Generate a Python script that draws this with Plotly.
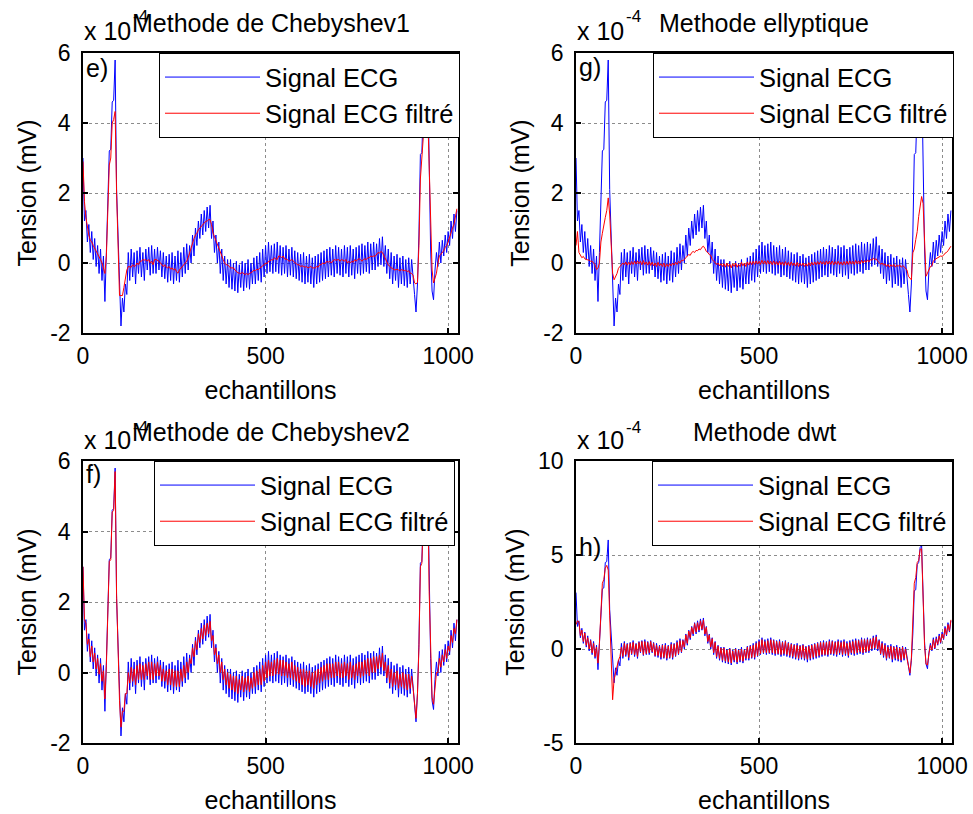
import plotly.graph_objects as go
from plotly.subplots import make_subplots

# ---------------- data (values in units of 1e-4 mV) ----------------
samples = list(range(0, 1025, 4))   # sample index (echantillons)
scale_exponent = -4

signal_ecg = [
    3.0, 1.2, 1.5, 0.6, 1.1, 0.3, 0.9, 0.1, 0.7, -0.1, 0.5, -0.3, 0.4, -0.5, 0.2, -1.1,
    0.3, 1.6, 3.2, 3.25, 4.6, 4.65, 5.8, 2.1, 0.6, -0.8, -1.8, -1.0, -1.4, -0.6, -0.9, 0.3,
    -0.5, 0.4, -0.4, 0.3, -0.6, 0.35, -0.3, 0.45, -0.4, 0.3, -0.5, 0.4, -0.2, 0.45, -0.35, 0.5,
    -0.3, 0.4, -0.3, 0.45, -0.2, 0.35, -0.4, 0.3, -0.45, 0.2, -0.55, 0.25, -0.5, 0.3, -0.6, 0.2,
    -0.5, 0.35, -0.55, 0.3, -0.4, 0.45, -0.3, 0.55, -0.2, 0.5, 0.0, 0.8, 0.2, 1.0, 0.5, 1.2,
    0.7, 1.4, 0.8, 1.5, 0.9, 1.6, 1.0, 1.65, 0.7, 1.2, 0.3, 0.8, 0.0, 0.6, -0.3, 0.4,
    -0.5, 0.2, -0.6, 0.1, -0.7, 0.1, -0.75, 0.0, -0.8, 0.05, -0.85, -0.05, -0.7, 0.05, -0.8, 0.0,
    -0.7, 0.1, -0.75, 0.0, -0.6, 0.15, -0.6, 0.2, -0.5, 0.3, -0.55, 0.4, -0.4, 0.5, -0.3, 0.6,
    -0.25, 0.5, -0.3, 0.55, -0.25, 0.6, -0.3, 0.5, -0.35, 0.45, -0.3, 0.5, -0.4, 0.4, -0.35, 0.45,
    -0.4, 0.35, -0.45, 0.3, -0.5, 0.25, -0.55, 0.3, -0.6, 0.2, -0.55, 0.25, -0.6, 0.15, -0.7, 0.2,
    -0.6, 0.25, -0.55, 0.3, -0.5, 0.35, -0.45, 0.4, -0.4, 0.45, -0.35, 0.4, -0.4, 0.5, -0.3, 0.45,
    -0.35, 0.4, -0.4, 0.5, -0.3, 0.45, -0.4, 0.5, -0.35, 0.4, -0.45, 0.45, -0.3, 0.5, -0.35, 0.55,
    -0.3, 0.5, -0.25, 0.6, -0.3, 0.55, -0.2, 0.6, -0.2, 0.55, -0.1, 0.7, -0.05, 0.75, -0.1, 0.5,
    -0.3, 0.4, -0.45, 0.3, -0.6, 0.2, -0.5, 0.25, -0.7, 0.15, -0.6, 0.2, -0.65, 0.1, -0.7, 0.15,
    -0.6, 0.1, -0.55, -0.9, -1.4, -0.6, 0.8, 3.1, 3.15, 4.5, 4.6, 5.4, 5.5, 2.2, 0.4, -0.8,
    -1.05, -0.2, 0.3, -0.1, 0.6, 0.0, 0.65, 0.2, 0.8, 0.3, 0.9, 0.5, 1.2, 0.7, 1.4, 0.9, 1.5,
]

filt_cheby1 = [
    2.9, 1.75, 1.3, 1.0, 0.8, 0.65, 0.6, 0.5, 0.42, 0.38, 0.3, 0.2, 0.1, 0.0, -0.14, -0.3,
    0.2, 1.6, 2.8, 3.0, 4.0, 4.1, 4.33, 2.0, 0.8, -0.93, -0.93, -0.93, -0.7, -0.4, -0.2, -0.1,
    -0.1, -0.12, -0.05, -0.1, -0.08, 0.0, -0.05, 0.05, 0.05, 0.1, 0.08, 0.1, 0.05, 0.1, 0.0, 0.05,
    -0.05, 0.1, 0.1, 0.08, 0.05, 0.0, -0.05, -0.1, -0.05, -0.12, -0.14, -0.1, -0.18, -0.14, -0.2, -0.16,
    -0.25, -0.29, -0.2, -0.15, -0.1, -0.05, 0.0, 0.05, 0.15, 0.3, 0.45, 0.57, 0.7, 0.8, 0.85, 0.95,
    1.0, 1.05, 1.1, 1.15, 1.19, 1.2, 1.24, 1.24, 1.1, 0.86, 0.75, 0.6, 0.5, 0.38, 0.29, 0.15,
    0.1, 0.0, -0.05, -0.05, -0.1, -0.14, -0.14, -0.14, -0.2, -0.25, -0.28, -0.29, -0.3, -0.27, -0.3, -0.33,
    -0.3, -0.33, -0.3, -0.28, -0.25, -0.2, -0.22, -0.18, -0.19, -0.15, -0.1, -0.08, -0.05, 0.0, -0.02, 0.05,
    0.05, 0.1, 0.08, 0.15, 0.12, 0.1, 0.2, 0.19, 0.15, 0.2, 0.12, 0.1, 0.1, 0.05, 0.08, 0.1,
    0.05, 0.0, -0.02, -0.05, -0.05, -0.1, -0.08, -0.1, -0.12, -0.1, -0.14, -0.12, -0.1, -0.14, -0.15, -0.14,
    -0.1, -0.12, -0.05, -0.05, 0.0, -0.02, 0.0, 0.05, 0.02, 0.05, 0.0, 0.05, 0.1, 0.08, 0.1, 0.1,
    0.05, 0.1, 0.08, 0.05, 0.1, 0.0, 0.05, 0.0, 0.05, 0.02, 0.1, 0.05, 0.1, 0.12, 0.1, 0.05,
    0.1, 0.12, 0.1, 0.15, 0.15, 0.2, 0.18, 0.2, 0.19, 0.25, 0.3, 0.28, 0.33, 0.3, 0.2, 0.1,
    0.0, -0.05, -0.1, -0.14, -0.15, -0.2, -0.19, -0.18, -0.2, -0.22, -0.19, -0.2, -0.22, -0.2, -0.25, -0.22,
    -0.29, -0.3, -0.35, -0.57, -0.6, -0.55, 0.5, 2.4, 3.1, 3.6, 4.0, 4.3, 4.3, 2.6, 1.0, -0.2,
    -0.57, -0.45, -0.29, 0.0, 0.2, 0.25, 0.29, 0.35, 0.45, 0.5, 0.6, 0.75, 0.86, 1.0, 1.1, 1.3, 1.55,
]

filt_ellip = [
    0.5, 0.9, 0.3, 0.2, 0.15, 0.19, 0.12, 0.1, 0.1, 0.08, 0.05, 0.05, 0.0, -0.05, -0.19, -0.15,
    0.0, 0.6, 0.85, 1.14, 1.3, 1.5, 1.86, 1.4, 0.4, -0.29, -0.48, -0.4, -0.3, -0.15, -0.1, -0.05,
    0.0, -0.05, 0.03, -0.06, 0.02, -0.05, 0.04, -0.04, 0.05, -0.03, 0.06, -0.02, 0.05, -0.05, 0.07, -0.04,
    0.03, -0.06, 0.04, -0.07, 0.02, -0.08, 0.0, -0.1, 0.02, -0.08, -0.02, -0.1, 0.0, -0.12, -0.03, -0.1,
    -0.02, -0.08, 0.0, -0.06, 0.02, -0.04, 0.05, 0.0, 0.08, 0.06, 0.12, 0.15, 0.2, 0.24, 0.22, 0.3,
    0.33, 0.3, 0.36, 0.35, 0.4, 0.38, 0.45, 0.48, 0.42, 0.33, 0.3, 0.24, 0.22, 0.1, 0.05, 0.02,
    -0.05, 0.0, -0.08, -0.02, -0.1, -0.02, -0.12, 0.0, -0.1, -0.03, -0.14, -0.02, -0.1, 0.0, -0.12, -0.04,
    -0.1, 0.02, -0.08, 0.0, -0.1, 0.03, -0.06, 0.04, -0.05, 0.05, -0.04, 0.06, -0.03, 0.05, -0.04, 0.08,
    -0.02, 0.06, -0.04, 0.07, -0.03, 0.05, -0.05, 0.06, -0.04, 0.04, -0.06, 0.05, -0.05, 0.03, -0.07, 0.04,
    -0.06, 0.02, -0.08, 0.03, -0.07, 0.0, -0.09, 0.02, -0.1, -0.01, -0.08, 0.0, -0.1, -0.02, -0.09, 0.01,
    -0.08, 0.02, -0.06, 0.03, -0.05, 0.04, -0.04, 0.05, -0.03, 0.04, -0.05, 0.06, -0.03, 0.05, -0.04, 0.06,
    -0.05, 0.04, -0.04, 0.05, -0.05, 0.03, -0.06, 0.04, -0.05, 0.05, -0.04, 0.06, -0.03, 0.05, -0.04, 0.07,
    -0.02, 0.06, -0.03, 0.08, 0.0, 0.07, 0.02, 0.09, 0.03, 0.1, 0.08, 0.14, 0.1, 0.12, 0.05, 0.02,
    -0.04, 0.0, -0.06, -0.02, -0.1, -0.04, -0.12, -0.05, -0.1, -0.04, -0.12, -0.06, -0.1, -0.05, -0.12, -0.08,
    -0.1, -0.15, -0.2, -0.38, -0.45, -0.48, 0.29, 0.4, 0.67, 0.9, 1.33, 1.6, 1.9, 1.7, 0.48, -0.38,
    -0.29, -0.2, -0.1, -0.08, 0.05, 0.1, 0.12, 0.15, 0.18, 0.2, 0.19, 0.22, 0.28, 0.3, 0.35, 0.42, 0.48,
]

filt_cheby2 = [
    3.0, 1.5, 1.4, 0.8, 0.95, 0.45, 0.75, 0.3, 0.55, 0.1, 0.4, -0.05, 0.25, -0.25, 0.05, -0.75,
    0.2, 1.6, 3.15, 3.2, 4.55, 4.6, 5.7, 2.2, 0.6, -0.8, -1.55, -1.1, -1.1, -0.6, -0.6, 0.0,
    -0.3, 0.15, -0.25, 0.1, -0.35, 0.2, -0.2, 0.25, -0.2, 0.2, -0.2, 0.25, -0.1, 0.3, -0.2, 0.3,
    -0.2, 0.25, -0.1, 0.3, -0.1, 0.2, -0.25, 0.1, -0.25, 0.05, -0.35, 0.1, -0.35, 0.1, -0.4, 0.05,
    -0.4, 0.05, -0.4, 0.1, -0.25, 0.2, -0.15, 0.3, 0.0, 0.4, 0.25, 0.7, 0.45, 0.9, 0.65, 1.1,
    0.85, 1.25, 0.95, 1.35, 1.05, 1.4, 1.1, 1.45, 0.9, 1.05, 0.5, 0.7, 0.25, 0.5, 0.0, 0.3,
    -0.2, 0.1, -0.35, 0.0, -0.45, -0.05, -0.5, -0.1, -0.55, -0.1, -0.6, -0.2, -0.5, -0.1, -0.55, -0.15,
    -0.5, -0.1, -0.55, -0.15, -0.45, 0.0, -0.4, 0.05, -0.35, 0.1, -0.35, 0.2, -0.25, 0.3, -0.15, 0.35,
    -0.1, 0.3, -0.1, 0.35, -0.05, 0.4, -0.05, 0.35, -0.1, 0.35, -0.1, 0.3, -0.15, 0.25, -0.15, 0.3,
    -0.2, 0.2, -0.25, 0.15, -0.3, 0.1, -0.35, 0.1, -0.4, 0.05, -0.35, 0.05, -0.4, 0.0, -0.45, 0.05,
    -0.35, 0.1, -0.3, 0.15, -0.25, 0.2, -0.2, 0.25, -0.2, 0.25, -0.15, 0.25, -0.15, 0.3, -0.1, 0.3,
    -0.15, 0.25, -0.15, 0.3, -0.1, 0.25, -0.2, 0.3, -0.15, 0.2, -0.2, 0.25, -0.1, 0.3, -0.15, 0.3,
    -0.1, 0.35, -0.05, 0.4, -0.1, 0.4, 0.0, 0.45, 0.0, 0.45, 0.1, 0.5, 0.15, 0.55, 0.05, 0.3,
    -0.15, 0.2, -0.3, 0.1, -0.4, 0.0, -0.35, 0.05, -0.45, -0.05, -0.4, 0.0, -0.45, -0.05, -0.5, -0.05,
    -0.45, -0.1, -0.45, -0.8, -1.3, -0.6, 0.7, 3.0, 3.1, 4.4, 4.5, 5.3, 5.4, 2.3, 0.5, -0.7,
    -0.9, -0.3, 0.0, 0.0, 0.4, 0.15, 0.5, 0.3, 0.65, 0.4, 0.75, 0.6, 1.05, 0.85, 1.25, 1.1, 1.5,
]

filt_dwt = [
    1.3, 1.5, 1.45, 0.7, 1.0, 0.4, 0.85, 0.2, 0.6, 0.0, 0.45, -0.2, 0.3, -0.4, 0.1, -0.75,
    0.3, 2.0, 3.5, 3.7, 4.3, 4.45, 4.2, 1.8, -1.0, -2.7, -1.6, -1.2, -0.9, -0.6, -0.4, 0.1,
    -0.4, 0.3, -0.3, 0.25, -0.45, 0.3, -0.25, 0.35, -0.3, 0.25, -0.4, 0.35, -0.15, 0.4, -0.3, 0.4,
    -0.25, 0.35, -0.2, 0.4, -0.15, 0.3, -0.35, 0.2, -0.35, 0.15, -0.45, 0.2, -0.45, 0.2, -0.5, 0.15,
    -0.45, 0.25, -0.45, 0.25, -0.35, 0.35, -0.25, 0.45, -0.15, 0.45, 0.1, 0.75, 0.3, 0.95, 0.6, 1.15,
    0.8, 1.35, 0.9, 1.4, 1.0, 1.5, 1.05, 1.55, 0.8, 1.15, 0.4, 0.75, 0.1, 0.55, -0.2, 0.35,
    -0.4, 0.15, -0.5, 0.05, -0.6, 0.05, -0.65, -0.05, -0.7, 0.0, -0.75, -0.1, -0.6, 0.0, -0.7, -0.05,
    -0.6, 0.0, -0.65, -0.05, -0.5, 0.1, -0.5, 0.15, -0.45, 0.2, -0.45, 0.3, -0.35, 0.4, -0.25, 0.5,
    -0.2, 0.4, -0.2, 0.45, -0.2, 0.5, -0.2, 0.45, -0.25, 0.4, -0.25, 0.4, -0.3, 0.35, -0.25, 0.4,
    -0.3, 0.3, -0.35, 0.25, -0.4, 0.2, -0.45, 0.2, -0.5, 0.15, -0.45, 0.2, -0.5, 0.1, -0.55, 0.15,
    -0.5, 0.2, -0.45, 0.25, -0.4, 0.3, -0.35, 0.35, -0.3, 0.35, -0.3, 0.35, -0.3, 0.4, -0.25, 0.4,
    -0.25, 0.35, -0.3, 0.4, -0.2, 0.35, -0.3, 0.4, -0.25, 0.3, -0.35, 0.35, -0.2, 0.4, -0.25, 0.45,
    -0.2, 0.45, -0.15, 0.5, -0.2, 0.5, -0.15, 0.5, -0.1, 0.5, 0.0, 0.6, 0.05, 0.65, 0.0, 0.45,
    -0.25, 0.3, -0.35, 0.2, -0.5, 0.1, -0.45, 0.15, -0.55, 0.1, -0.5, 0.1, -0.55, 0.05, -0.6, 0.1,
    -0.5, 0.0, -0.5, -0.85, -1.28, -0.5, 1.5, 3.5, 3.8, 4.6, 4.7, 5.3, 5.33, 2.5, 0.2, -0.8,
    -0.85, -0.25, 0.2, -0.05, 0.5, 0.05, 0.55, 0.25, 0.7, 0.35, 0.8, 0.55, 1.1, 0.75, 1.3, 0.95, 1.55,
]

panel_titles = ["Methode de Chebyshev1", "Methode ellyptique",
                "Methode de Chebyshev2", "Methode dwt"]
panel_tags = ["e)", "g)", "f)", "h)"]
filtered = [filt_cheby1, filt_ellip, filt_cheby2, filt_dwt]
series_names = ["Signal ECG", "Signal ECG filtré"]
x_label = "echantillons"
y_label = "Tension (mV)"
x_ticks = [0, 500, 1000]
y_ticks = [[-2, 0, 2, 4, 6], [-2, 0, 2, 4, 6], [-2, 0, 2, 4, 6], [-5, 0, 5, 10]]
y_ranges = [[-2, 6], [-2, 6], [-2, 6], [-5, 10]]
tag_y = [5.57, 5.6, 5.63, 5.43]

# ---------------- layout geometry (pixels) ----------------
W, H = 973, 814
FONT = "Arial, 'Liberation Sans', sans-serif"
col_px = {1: (83, 458), 2: (576, 952)}
row_px = {1: (53, 333), 2: (461, 743)}
legend_px = [(460, 53), (954, 53), (455, 461), (953, 461)]

def fx(p):
    return p / W

def fy(p):
    return 1 - p / H

fig = make_subplots(rows=2, cols=2)
positions = [(1, 1), (1, 2), (2, 1), (2, 2)]
legend_ids = ["legend", "legend2", "legend3", "legend4"]

for i, (r, c) in enumerate(positions):
    fig.add_trace(go.Scatter(x=samples, y=signal_ecg, mode="lines", name=series_names[0],
                             line=dict(color="#0000FF", width=1), legend=legend_ids[i]),
                  row=r, col=c)
    fig.add_trace(go.Scatter(x=samples, y=filtered[i], mode="lines", name=series_names[1],
                             line=dict(color="#FF0000", width=1), legend=legend_ids[i]),
                  row=r, col=c)

txt = dict(family=FONT, color="black")
annotations = []
for i, (r, c) in enumerate(positions):
    sfx = "" if i == 0 else str(i + 1)
    x0, x1 = col_px[c]
    y0, y1 = row_px[r]
    fig.layout["xaxis" + sfx].update(
        domain=[fx(x0), fx(x1)], range=[0, 1027], tickvals=x_ticks,
        ticktext=[str(v) for v in x_ticks], automargin=False,
        showline=True, linecolor="black", linewidth=1.5, mirror="ticks",
        ticks="inside", ticklen=5, tickcolor="black", tickwidth=1.5,
        showgrid=True, gridcolor="#8c8c8c", griddash="dot", gridwidth=1,
        zeroline=False, tickfont=dict(size=23, **txt),
        ticklabelstandoff=2,
        title=dict(text=x_label, font=dict(size=25, **txt), standoff=13),
    )
    fig.layout["yaxis" + sfx].update(
        domain=[fy(y1), fy(y0)], range=y_ranges[i], tickvals=y_ticks[i],
        ticktext=[str(v) for v in y_ticks[i]], automargin=False,
        showline=True, linecolor="black", linewidth=1.5, mirror="ticks",
        ticks="inside", ticklen=5, tickcolor="black", tickwidth=1.5,
        showgrid=True, gridcolor="#8c8c8c", griddash="dot", gridwidth=1,
        zeroline=False, tickfont=dict(size=23, **txt),
        ticklabelstandoff=6,
        title=dict(text=y_label, font=dict(size=25, **txt), standoff=6),
    )
    lx, ly = legend_px[i]
    fig.layout[legend_ids[i]] = dict(
        x=fx(lx), xanchor="right", y=fy(ly), yanchor="top",
        bgcolor="white", bordercolor="black", borderwidth=1,
        font=dict(size=25.5, **txt),
        itemwidth=95,
    )
    # exponent label "x 10^-4" drawn first (title overlaps it, as in the original)
    base_py = 31 if r == 1 else 440
    exp_py = 17 if r == 1 else 427
    annotations.insert(0, dict(text="x 10", xref="paper", yref="paper",
                               x=fx(x0 - 1), y=fy(base_py), xanchor="left", yanchor="middle",
                               showarrow=False, font=dict(size=25, **txt)))
    annotations.insert(0, dict(text=str(scale_exponent), xref="paper", yref="paper",
                               x=fx(x0 + 48), y=fy(exp_py), xanchor="left", yanchor="middle",
                               showarrow=False, font=dict(size=17, **txt)))
    # panel title
    title_py = 23 if r == 1 else 432
    annotations.append(dict(text=panel_titles[i], xref="paper", yref="paper",
                            x=fx((x0 + x1) / 2), y=fy(title_py), xanchor="center", yanchor="middle",
                            showarrow=False, font=dict(size=25, **txt)))
    # panel tag e) f) g) h)
    annotations.append(dict(text=panel_tags[i], xref="x" + sfx, yref="y" + sfx,
                            x=4, y=tag_y[i], xanchor="left", yanchor="middle",
                            showarrow=False, font=dict(size=25, **txt)))

fig.update_layout(
    width=W, height=H, margin=dict(l=0, r=0, t=0, b=0, autoexpand=False),
    paper_bgcolor="white", plot_bgcolor="white",
    annotations=annotations, showlegend=True,
    font=dict(family=FONT, color="black"),
)

fig.write_html("out.html")
